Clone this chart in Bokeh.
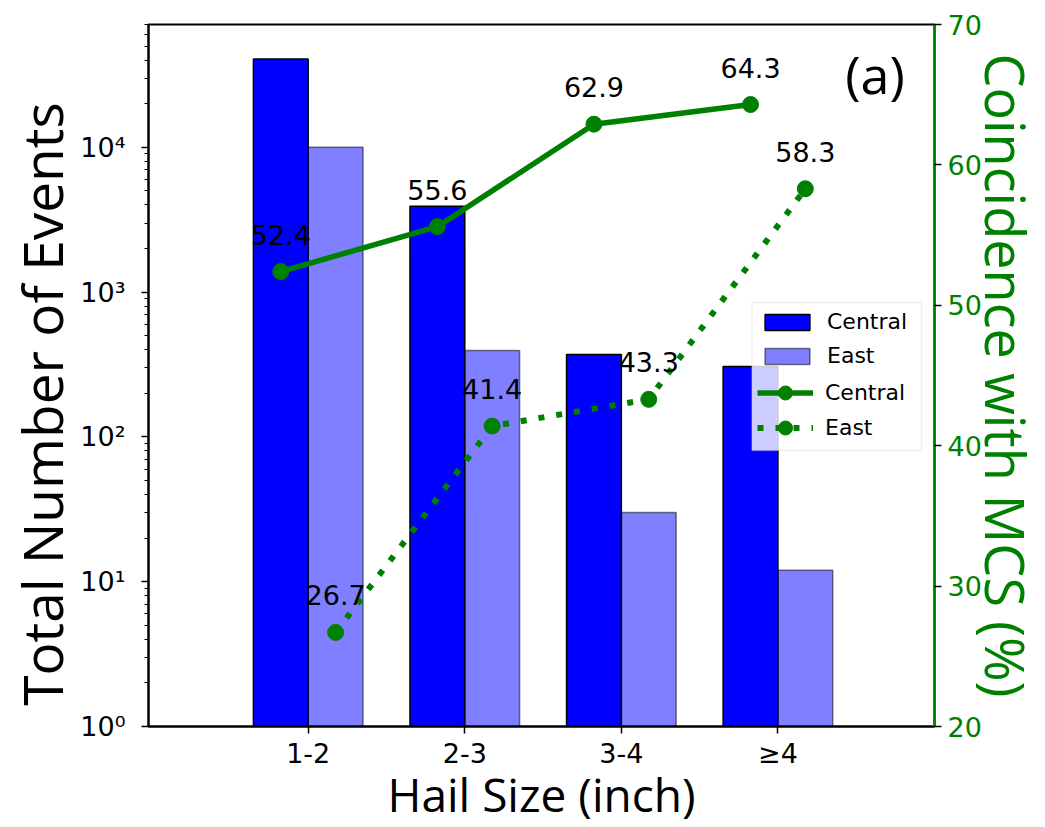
import numpy as np
from bokeh.plotting import figure
from bokeh.models import (Range1d, LinearAxis, LinearScale, FixedTicker, Legend, LegendItem,
                          Label, BoxAnnotation)
from bokeh.core.properties import value
from bokeh.embed import file_html
from bokeh.resources import INLINE

# ---- data ----
categories = ["1-2", "2-3", "3-4", "≥4"]
central_events = [40800, 3920, 371, 306]
east_events = [10000, 395, 30, 12]
central_pct = [52.4, 55.6, 62.9, 64.3]
east_pct = [26.7, 41.4, 43.3, 58.3]
log_tick_values = [1, 10, 100, 1000, 10000]
log_tick_labels = ["10⁰", "10¹", "10²", "10³", "10⁴"]
pct_ticks = [20, 30, 40, 50, 60, 70]

GREEN = "#008000"
bar_w = 0.35
idx = np.arange(len(categories))
xc = idx - bar_w / 2
xe = idx + bar_w / 2

p = figure(width=1045, height=827, output_backend="svg", toolbar_location=None,
           y_axis_type="log", x_range=Range1d(-1.02, 4.0), y_range=Range1d(1, 70500),
           min_border_left=148, min_border_right=109, min_border_top=24, min_border_bottom=101)
p.extra_y_ranges = {"pct": Range1d(20, 70)}
p.extra_y_scales = {"pct": LinearScale()}
p.xgrid.visible = False
p.ygrid.visible = False
p.outline_line_color = "black"
p.outline_line_width = 2
p.background_fill_color = "white"

# bars
bc = p.vbar(x=xc, top=central_events, bottom=1, width=bar_w, fill_color="#0000ff",
            line_color="black", line_width=1.5)
be = p.vbar(x=xe, top=east_events, bottom=1, width=bar_w, fill_color="#0000ff",
            fill_alpha=0.5, line_color="black", line_alpha=0.5, line_width=1.5)

# lines
lc = p.line(xc, central_pct, y_range_name="pct", line_color=GREEN, line_width=5.5)
sc = p.scatter(xc, central_pct, y_range_name="pct", size=16, fill_color=GREEN, line_color=GREEN)
le = p.line(xe, east_pct, y_range_name="pct", line_color=GREEN, line_width=6, line_dash="6 12")
se = p.scatter(xe, east_pct, y_range_name="pct", size=16, fill_color=GREEN, line_color=GREEN)

# value labels
for xs, vals in ((xc, central_pct), (xe, east_pct)):
    p.text(x=xs, y=vals, text=["%.1f" % v for v in vals], y_range_name="pct",
           text_align="center", text_baseline="alphabetic", y_offset=-37,
           text_font=value("DejaVu Sans"), text_font_size="27px", text_color="black")

# x axis
p.xaxis.ticker = FixedTicker(ticks=list(idx))
p.xaxis.major_label_overrides = {int(i): c for i, c in zip(idx, categories)}
p.xaxis.major_label_text_font = "DejaVu Sans"
p.xaxis.major_label_text_font_size = "27px"
p.xaxis.major_label_text_color = "black"
p.xaxis.major_label_standoff = 4
p.xaxis.major_tick_out = 7
p.xaxis.major_tick_in = 0
p.xaxis.minor_tick_out = 0
p.xaxis.axis_line_width = 2
p.xaxis.major_tick_line_width = 1.5
p.xaxis.axis_label = "Hail Size (inch)"
p.xaxis.axis_label_text_font = "Open Sans"
p.xaxis.axis_label_text_font_size = "46px"
p.xaxis.axis_label_text_font_style = "normal"
p.xaxis.axis_label_text_color = "black"
p.xaxis.axis_label_standoff = -9

# left log axis
minor = [m * 10 ** e for e in range(5) for m in range(2, 10)]
p.yaxis.ticker = FixedTicker(ticks=log_tick_values, minor_ticks=minor)
p.yaxis.major_label_overrides = {float(v): s for v, s in zip(log_tick_values, log_tick_labels)}
p.yaxis.major_label_text_font = "DejaVu Sans"
p.yaxis.major_label_text_font_size = "27px"
p.yaxis.major_label_text_color = "black"
p.yaxis.major_label_standoff = 16
p.yaxis.major_tick_out = 7
p.yaxis.major_tick_in = 0
p.yaxis.minor_tick_out = 4
p.yaxis.minor_tick_in = 0
p.yaxis.axis_line_width = 2
p.yaxis.major_tick_line_width = 1.5
p.yaxis.axis_label = "Total Number of Events    "
p.yaxis.axis_label_text_font = "Open Sans"
p.yaxis.axis_label_text_font_size = "55px"
p.yaxis.axis_label_text_font_style = "normal"
p.yaxis.axis_label_text_color = "black"
p.yaxis.axis_label_standoff = -2

# right axis
ra = LinearAxis(y_range_name="pct", ticker=FixedTicker(ticks=pct_ticks))
ra.major_label_text_font = "DejaVu Sans"
ra.major_label_text_font_size = "27px"
ra.major_label_text_color = GREEN
ra.major_label_standoff = 6
ra.major_tick_out = 7
ra.major_tick_in = 0
ra.minor_tick_out = 0
ra.minor_tick_in = 0
ra.axis_line_color = GREEN
ra.axis_line_width = 2.5
ra.major_tick_line_color = "black"
ra.major_tick_line_width = 1.5
ra.axis_label = "Coincidence with MCS (%)"
ra.axis_label_text_font = "Open Sans"
ra.axis_label_text_font_size = "54px"
ra.axis_label_text_font_style = "normal"
ra.axis_label_text_color = GREEN
ra.axis_label_text_baseline = "alphabetic"
ra.axis_label_standoff = -16
p.add_layout(ra, "right")

# legend background box
p.add_layout(BoxAnnotation(left=2.834, right=3.917, top=50.2, bottom=39.66, y_range_name="pct",
                           fill_color="white", fill_alpha=0.8, line_color="#cccccc",
                           line_width=1.5))

legend_a = Legend(items=[
    LegendItem(label="Central", renderers=[bc]),
    LegendItem(label="East", renderers=[be]),
], location=(611, 358))
legend_b = Legend(items=[
    LegendItem(label="Central", renderers=[lc, sc]),
    LegendItem(label="East", renderers=[le, se]),
], location=(609, 281))
for lg, gh, sp, pad in ((legend_a, 20, 9, 8), (legend_b, 35, 0, 0)):
    lg.label_text_font = "DejaVu Sans"
    lg.label_text_font_size = "22px"
    lg.label_text_color = "black"
    lg.glyph_width = 56
    lg.glyph_height = gh
    lg.label_height = 20
    lg.label_width = 90
    lg.spacing = sp
    lg.padding = pad
    lg.margin = 0
    lg.label_standoff = 12
    lg.background_fill_alpha = 0
    lg.border_line_color = None
    p.add_layout(lg, "center")

# panel tag
p.add_layout(Label(x=3.43, y=66.5, y_range_name="pct", text="(a)", text_font="Open Sans",
                   text_font_size="52px", text_align="left", text_baseline="alphabetic",
                   text_color="black"))

open("out.html", "w").write(file_html(p, INLINE))
